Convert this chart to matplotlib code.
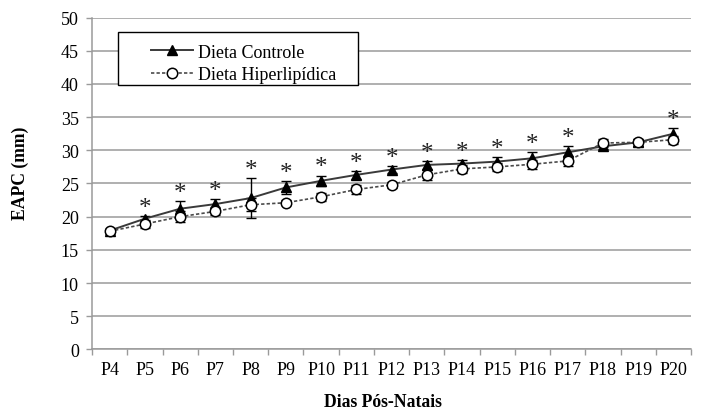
import matplotlib
matplotlib.use("Agg")
import matplotlib.pyplot as plt
from matplotlib.patches import Rectangle
from matplotlib.lines import Line2D
import numpy as np

# postnatal days and EAPC (mm) means +/- SD for each diet
days = ["P4", "P5", "P6", "P7", "P8", "P9", "P10", "P11", "P12",
        "P13", "P14", "P15", "P16", "P17", "P18", "P19", "P20"]
controle = [17.9, 19.7, 21.2, 21.9, 22.8, 24.4, 25.4, 26.3, 27.1,
            27.8, 28.0, 28.3, 28.8, 29.7, 30.6, 31.2, 32.5]
controle_sd = [0.3, 0.4, 1.2, 0.7, 3.0, 1.0, 0.8, 0.6, 0.5,
               0.6, 0.6, 0.7, 1.0, 0.9, 0.4, 0.5, 0.8]
hiper = [17.8, 18.9, 20.0, 20.8, 21.8, 22.1, 23.0, 24.1, 24.8,
         26.3, 27.2, 27.5, 27.9, 28.4, 31.1, 31.2, 31.6]
hiper_sd = [0.3, 0.6, 0.8, 0.6, 1.0, 0.4, 0.6, 0.7, 0.5,
            0.8, 0.6, 0.6, 0.7, 0.7, 0.6, 0.5, 0.6]
# significant difference between groups
signif = [False, True, True, True, True, True, True, True, True,
          True, True, True, True, True, False, False, True]

yticks = [0, 5, 10, 15, 20, 25, 30, 35, 40, 45, 50]

plt.rcParams['font.family'] = ['Liberation Serif', 'DejaVu Serif']
grey = '#9a9a9a'

fig = plt.figure(figsize=(7.02, 4.14), dpi=100)
ax = fig.add_axes([0.1311, 0.1534, 0.8533, 0.8019])

x = np.arange(len(days))

ax.errorbar(x, controle, yerr=controle_sd, fmt='none', ecolor='black',
            elinewidth=1, capsize=3.5, capthick=1, zorder=3)
ax.errorbar(x, hiper, yerr=hiper_sd, fmt='none', ecolor='black',
            elinewidth=1, capsize=3.5, capthick=1, zorder=3)
ax.plot(x, controle, color='#3a3a3a', lw=1.4, marker='^', ms=7.5,
        mfc='black', mec='black', zorder=4)
ax.plot(x, hiper, color='#4a4a4a', lw=1.2, ls=(0, (2, 1.3)), marker='o', ms=7.5,
        mfc='white', mec='black', mew=1.1, zorder=5)

for i, s in enumerate(signif):
    if s:
        ax.annotate('*', (x[i], controle[i] + controle_sd[i]), xytext=(0, 1.5),
                    textcoords='offset points', ha='center', va='baseline',
                    fontsize=18, color='#222222')

ax.set_xlim(-0.5, len(days) - 0.5)
ax.set_ylim(0, 50)
ax.set_yticks(yticks)
ax.set_xticks(x)
ax.set_xticklabels(days)
ax.set_xticks(np.arange(len(days) + 1) - 0.5, minor=True)
ax.tick_params(axis='x', which='major', length=0, pad=8, labelsize=13)
ax.tick_params(axis='x', which='minor', length=4, width=1, color=grey)
ax.tick_params(axis='y', length=4, width=1, color=grey, pad=5.5, labelsize=13)

ax.yaxis.grid(True, color=grey, lw=1.1)
ax.set_axisbelow(True)
for side in ['top', 'right']:
    ax.spines[side].set_visible(False)
for side in ['left', 'bottom']:
    ax.spines[side].set_color(grey)
    ax.spines[side].set_linewidth(1.1)

ax.set_ylabel('EAPC (mm)', fontsize=12.7, fontweight='bold')
ax.yaxis.set_label_coords(-0.105, 0.535)
ax.set_xlabel('Dias Pós-Natais', fontsize=12.7, fontweight='bold')
ax.xaxis.set_label_coords(0.486, -0.131)

# legend box
ax.add_patch(Rectangle((0.0434, 0.797), 0.4006, 0.159, transform=ax.transAxes,
                       facecolor='white', edgecolor='black', lw=1, zorder=6))
handles = [
    Line2D([], [], color='#3a3a3a', lw=1.4, marker='^', ms=7.5,
           mfc='black', mec='black'),
    Line2D([], [], color='#4a4a4a', lw=1.2, ls=(0, (2, 1.3)), marker='o', ms=7.5,
           mfc='white', mec='black', mew=1.1),
]
leg = ax.legend(handles, ['Dieta Controle', 'Dieta Hiperlipídica'],
                loc='upper left', bbox_to_anchor=(0.075, 0.965), frameon=False,
                fontsize=13, handlelength=2.3, handletextpad=0.3,
                labelspacing=0.3, borderpad=0.3, numpoints=1)
leg.set_zorder(7)

fig.savefig('out.png', dpi=100)
